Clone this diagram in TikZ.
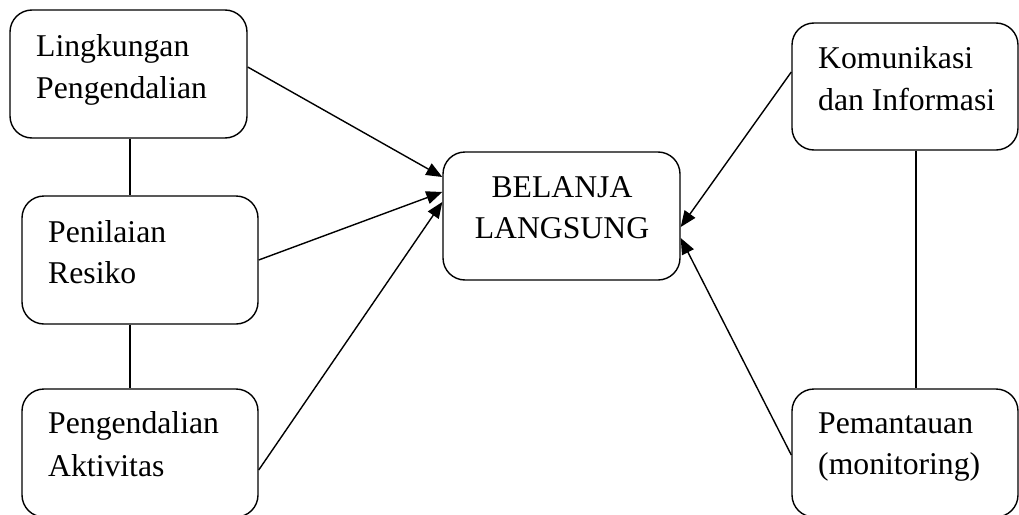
\documentclass[tikz,border=0pt]{standalone}
\usepackage{fontspec}
\setmainfont{Liberation Serif}
\usetikzlibrary{arrows.meta}
\begin{document}
\begin{tikzpicture}[x=1pt,y=-1pt,
  boxnode/.style={draw,line width=1.4pt,rounded corners=22pt,inner sep=0pt},
  label/.style={anchor=base west,inner sep=0pt,font=\fontsize{31.7}{41}\selectfont},
  clabel/.style={anchor=base,inner sep=0pt,font=\fontsize{31.7}{41}\selectfont},
  arr/.style={line width=1.4pt,-{Triangle[length=16pt,width=13pt]}},
  link/.style={line width=1.4pt}]
\useasboundingbox (0,0) rectangle (1019,514);
\clip (0,0) rectangle (1019,514);
% boxes
\node[boxnode,minimum width=237pt,minimum height=128pt] (lk) at (128.5,74) {};
\node[boxnode,minimum width=236pt,minimum height=128pt] (pr) at (140,260) {};
\node[boxnode,minimum width=236pt,minimum height=128pt] (pa) at (140,453) {};
\node[boxnode,minimum width=237pt,minimum height=128pt] (bl) at (561.5,216) {};
\node[boxnode,minimum width=226pt,minimum height=127pt] (ki) at (905,86.5) {};
\node[boxnode,minimum width=226pt,minimum height=128pt] (pm) at (905,453) {};
% texts
\node[label] (t1) at (36,56) {Lingkungan};
\node[label] (t2) at (36,98) {Pengendalian};
\node[label] (t3) at (48,242) {Penilaian};
\node[label] (t4) at (48,283) {Resiko};
\node[label] (t5) at (48,433) {Pengendalian};
\node[label] (t6) at (48,476) {Aktivitas};
\node[clabel] (t7) at (562,197) {BELANJA};
\node[clabel] (t8) at (562,238) {LANGSUNG};
\node[label] (t9) at (818,68) {Komunikasi};
\node[label] (t10) at (818,110) {dan Informasi};
\node[label] (t11) at (818,433) {Pemantauan};
\node[label] (t12) at (818,474) {(monitoring)};
% vertical links
\draw[link] ([xshift=1.5pt]lk.south) -- ([xshift=1.5pt]lk.south |- pr.north);
\draw[link] ([xshift=-10pt]pr.south) -- ([xshift=-10pt]pr.south |- pa.north);
\draw[link] ([xshift=11pt]ki.south) -- ([xshift=11pt]ki.south |- pm.north);
% arrows
\draw[arr] ([yshift=7pt]lk.east) -- ([yshift=39pt]bl.west);
\draw[arr] (pr.east) -- ([yshift=24pt]bl.west);
\draw[arr] ([yshift=-17pt]pa.east) -- ([yshift=14pt]bl.west);
\draw[arr] ([yshift=14.5pt]ki.west) -- ([yshift=-11pt]bl.east);
\draw[arr] ([yshift=-2pt]pm.west) -- ([yshift=-22pt]bl.east);
\end{tikzpicture}
\end{document}
